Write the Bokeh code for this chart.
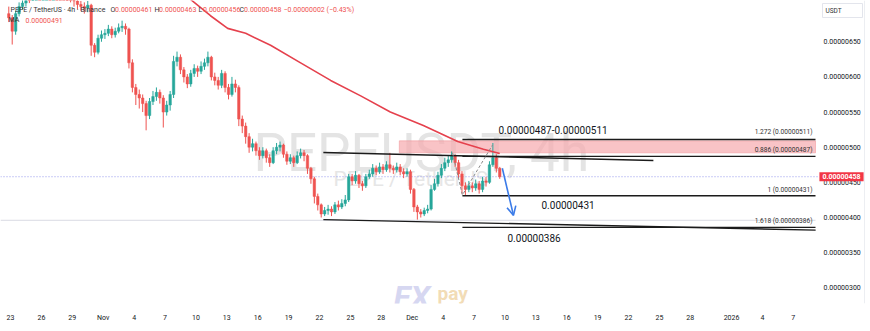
import numpy as np
import pandas as pd
from bokeh.plotting import figure
from bokeh.models import (Range1d, FixedTicker, NumeralTickFormatter, Label,
                          Arrow, OpenHead, ColumnDataSource)
from bokeh.core.properties import value
from bokeh.embed import file_html
from bokeh.resources import INLINE

UNIT = 1e-8  # all prices below are in units of 0.00000001 USDT

# ---------------- data (PEPE/USDT, 8h candles) ----------------
FIRST_CANDLE = "2025-10-22 16:00"
FIRST_OPEN = 690
closes = [684,
          665, 690, 700, 705, 715, 712, 720, 730, 725, 735, 740, 728, 745, 738, 730,
          725, 715, 712, 708, 703, 700, 698, 702, 645, 635, 655, 660, 662, 668, 660,
          665, 670, 672, 668, 620, 585, 575, 570, 562, 545, 565, 572, 578, 570, 550,
          560, 575, 622, 628, 610, 600, 590, 605, 612, 608, 615, 620, 628, 600, 595,
          588, 605, 585, 575, 590, 585, 540, 530, 515, 500, 505, 495, 488, 495, 485,
          478, 495, 500, 503, 490, 480, 485, 478, 488, 492, 488, 470, 455, 430, 418,
          405, 410, 412, 408, 418, 415, 420, 425, 458, 452, 460, 448, 445, 458, 462,
          470, 465, 472, 468, 475, 470, 468, 472, 465, 462, 465, 440, 415, 408, 405,
          410, 412, 440, 448, 460, 470, 478, 482, 488, 478, 462, 445, 440, 445, 442,
          448, 440, 452, 450, 475, 485, 470, 458]
highs = [700,
         688, 694, 706, 712, 722, 720, 726, 736, 734, 742, 748, 744, 752, 750, 742,
         734, 728, 720, 716, 712, 708, 706, 708, 704, 648, 660, 666, 668, 674, 672,
         670, 676, 680, 676, 670, 625, 590, 582, 575, 566, 570, 580, 585, 582, 574,
         566, 580, 630, 636, 632, 614, 604, 610, 618, 616, 622, 626, 636, 630, 606,
         600, 610, 608, 590, 600, 596, 588, 545, 535, 520, 512, 508, 500, 500, 498,
         490, 500, 506, 508, 505, 494, 490, 488, 494, 498, 496, 490, 472, 458, 434,
         420, 415, 418, 416, 422, 424, 426, 432, 462, 462, 466, 462, 452, 462, 468,
         476, 474, 478, 476, 480, 492, 474, 478, 476, 470, 470, 468, 442, 418, 412,
         414, 418, 446, 455, 465, 476, 485, 488, 494, 490, 482, 466, 450, 452, 450,
         454, 452, 458, 458, 480, 506, 490, 472]
lows = [678,
        646, 660, 686, 696, 700, 705, 708, 716, 718, 720, 730, 722, 724, 732, 724,
        718, 708, 706, 700, 696, 694, 690, 692, 630, 628, 632, 650, 654, 658, 655,
        656, 662, 664, 660, 612, 578, 560, 555, 550, 524, 540, 560, 566, 562, 528,
        545, 552, 570, 615, 604, 592, 584, 586, 600, 600, 604, 610, 615, 595, 588,
        582, 584, 578, 568, 572, 578, 530, 520, 505, 492, 494, 488, 482, 484, 478,
        472, 476, 490, 494, 485, 475, 476, 472, 476, 484, 480, 462, 448, 420, 410,
        400, 402, 404, 402, 405, 410, 412, 416, 422, 446, 448, 442, 438, 442, 455,
        458, 460, 462, 462, 465, 464, 462, 464, 460, 456, 458, 434, 408, 397, 400,
        402, 406, 410, 438, 444, 456, 466, 472, 478, 472, 456, 434, 432, 436, 436,
        438, 434, 436, 444, 448, 472, 464, 455]

ma_times = ["2025-11-08 12:00", "2025-11-11 10:00", "2025-11-13 02:00", "2025-11-14 20:00",
            "2025-11-17 06:00", "2025-11-20 04:00", "2025-11-23 02:00", "2025-11-26 00:00",
            "2025-11-28 21:00", "2025-12-02 02:00", "2025-12-05 10:00", "2025-12-07 22:00",
            "2025-12-09 12:00"]
ma_values = [722, 687, 669, 662, 645, 620, 595, 573, 550, 531, 508, 497, 491]

fib_ratios = ["1.272", "0.886", "1", "1.618"]
fib_levels = [511, 487, 431, 386]
fib_start = "2025-12-05 21:00"
zone_start = "2025-11-29 18:00"
zone_low, zone_high = 492, 509
last_price = 458
trend_upper_t = ["2025-11-22 09:00", "2025-12-24 10:00"]
trend_upper_v = [492.5, 481]
trend_lower_t = ["2025-11-22 09:00", "2026-01-09 04:00"]
trend_lower_v = [397, 382]
faint_level = 396
swing_t = ["2025-12-04 22:00", "2025-12-05 21:00", "2025-12-08 19:00"]
swing_v = [492, 432, 503]
arrow_t = ["2025-12-09 18:00", "2025-12-10 20:00"]
arrow_v = [470, 403]

y_ticks = [300, 350, 400, 450, 500, 550, 600, 650]
x_tick_dates = ["2025-10-23", "2025-10-26", "2025-10-29", "2025-11-01", "2025-11-04",
                "2025-11-07", "2025-11-10", "2025-11-13", "2025-11-16", "2025-11-19",
                "2025-11-22", "2025-11-25", "2025-11-28", "2025-12-01", "2025-12-04",
                "2025-12-07", "2025-12-10", "2025-12-13", "2025-12-16", "2025-12-19",
                "2025-12-22", "2025-12-25", "2025-12-28", "2026-01-01", "2026-01-04",
                "2026-01-07"]
x_tick_labels = ["23", "26", "29", "Nov", "4", "7", "10", "13", "16", "19", "22", "25", "28",
                 "Dec", "4", "7", "10", "13", "16", "19", "22", "25", "28", "2026", "4", "7"]

header_info = "PEPE / TetherUS · 4h · Binance"
header_ohlc = [("O", "0.00000461"), ("H", "0.00000463"), ("L", "0.00000456"), ("C", "0.00000458")]
header_change = "−0.00000002 (−0.43%)"
ma_label = "0.00000491"


# ---------------- helpers ----------------
def ms(s):
    return pd.Timestamp(s).value / 1e6


T0 = ms("2025-10-23")
DAY = 86400000.0
PX_PER_DAY = 10.3


def X(px):  # layout helper: screen x -> time
    return T0 + (px - 10) / PX_PER_DAY * DAY


def V(py):  # layout helper: screen y -> price
    return (500 - (py - 146.7) / 0.703) * UNIT


FONT = value("Roboto")
GREEN, RED = "#26a69a", "#ef5350"

n = len(closes)
opens = [FIRST_OPEN] + closes[:-1]
t_open = pd.date_range(FIRST_CANDLE, periods=n, freq="8h")
t_mid = (t_open + pd.Timedelta(hours=4)).values.astype("datetime64[ms]").astype("int64").astype(float)
o = np.array(opens, float) * UNIT
c = np.array(closes, float) * UNIT
h = np.array(highs, float) * UNIT
l = np.array(lows, float) * UNIT
colors = [GREEN if cc >= oo else RED for oo, cc in zip(opens, closes)]
src = ColumnDataSource(dict(x=t_mid, top=np.maximum(o, c), bottom=np.minimum(o, c),
                            high=h, low=l, color=colors))

p = figure(width=870, height=331, x_axis_type="datetime", y_axis_location="right",
           output_backend="svg", toolbar_location=None,
           x_range=Range1d(X(0), X(870)), y_range=Range1d(V(303), V(0)),
           min_border_left=0, min_border_top=0, min_border_right=0, min_border_bottom=28)
p.outline_line_color = None
p.grid.visible = False
p.background_fill_color = "white"
p.border_fill_color = "white"

# watermarks
p.text(x=[X(253)], y=[V(152)], text=["PEPEUSDT, 4h"], text_font=FONT, text_font_size="53px",
       text_color="#e4e4e4", text_baseline="alphabetic", text_align="left")
p.text(x=[X(333)], y=[V(178)], text=["PEPE / TetherUS"], text_font=FONT, text_font_size="21px",
       text_color="#e6e6e6", text_baseline="middle", text_align="left")
p.text(x=[X(393)], y=[V(296)], text=["FX"], text_font=FONT, text_font_size="32px",
       text_font_style="bold italic", text_color="#d6d7f1", text_baseline="alphabetic")
p.text(x=[X(437)], y=[V(293)], text=["pay"], text_font=FONT, text_font_size="19px",
       text_font_style="bold", text_color="#f2dcb6", text_baseline="alphabetic")

x_right = X(815)  # right edge of the price pane
# pane edge on the far right
p.line(x=[X(864), X(864)], y=[V(0), V(303)], line_color="#eceef2", line_width=1)
# pink zone
p.quad(left=[ms(zone_start)], right=[x_right], bottom=[zone_low * UNIT], top=[zone_high * UNIT],
       fill_color="#f6a9ae", fill_alpha=0.7, line_color="#f19aa0", line_width=0.6)
# faint horizontal line
p.line(x=[X(0), x_right], y=[faint_level * UNIT] * 2, line_color="#cfd2dc", line_width=0.8)
# last price dotted line
p.line(x=[X(0), X(819)], y=[last_price * UNIT] * 2, line_color="#9598ee", line_width=1,
       line_dash="1 2")

# candles
p.segment(x0="x", y0="low", x1="x", y1="high", color="color", line_width=1, source=src)
p.vbar(x="x", width=8 * 3600000 * 0.72, top="top", bottom="bottom", fill_color="color",
       line_color="color", line_width=0.5, source=src)

# moving average
p.line(x=[ms(t) for t in ma_times], y=[v * UNIT for v in ma_values], line_color="#e5414d",
       line_width=1.6)

# trend lines
p.line(x=[ms(t) for t in trend_upper_t], y=[v * UNIT for v in trend_upper_v],
       line_color="#1b1b1b", line_width=1.4)
p.line(x=[ms(t) for t in trend_lower_t], y=[v * UNIT for v in trend_lower_v],
       line_color="#1b1b1b", line_width=1.4)
# fib lines
for lv in fib_levels:
    p.line(x=[ms(fib_start), x_right], y=[lv * UNIT] * 2, line_color="#1b1b1b", line_width=1.4)
# swing dashed
p.line(x=[ms(t) for t in swing_t], y=[v * UNIT for v in swing_v], line_color="#8a8a8a",
       line_width=1, line_dash="3 2")
# blue arrow
BLUE = "#3b7be8"
p.add_layout(Arrow(x_start=ms(arrow_t[0]), y_start=arrow_v[0] * UNIT,
                   x_end=ms(arrow_t[1]), y_end=arrow_v[1] * UNIT,
                   line_color=BLUE, line_width=1.6,
                   end=OpenHead(size=9, line_color=BLUE, line_width=1.6)))

# fib labels (right side)
fib_label_py = [131.7, 149, 189, 220]
for ratio, lv, py in zip(fib_ratios, fib_levels, fib_label_py):
    p.add_layout(Label(x=X(812), y=V(py), text=f"{ratio} (0.00000{lv})", text_font="Roboto",
                       text_font_size="6.6px", text_color="#333333", text_align="right",
                       text_baseline="middle"))

# big annotation labels
p.add_layout(Label(x=X(498), y=V(129), text=f"0.00000{fib_levels[1]}-0.00000{fib_levels[0]}",
                   text_font="Roboto", text_font_size="10px", text_color="#131722",
                   text_baseline="middle"))
p.add_layout(Label(x=X(541), y=V(204), text=f"0.00000{fib_levels[2]}", text_font="Roboto",
                   text_font_size="10px", text_color="#131722", text_baseline="middle"))
p.add_layout(Label(x=X(507), y=V(237), text=f"0.00000{fib_levels[3]}", text_font="Roboto",
                   text_font_size="10px", text_color="#131722", text_baseline="middle"))

# header
HDR = dict(text_font="Roboto", text_font_size="7px", text_baseline="middle")
p.add_layout(Label(x=X(10), y=V(9), text=header_info, text_color="#333333", **HDR))
hx = [110, 154, 198, 239]
for px, (k, val) in zip(hx, header_ohlc):
    p.add_layout(Label(x=X(px), y=V(9), text=k, text_color="#333333", **HDR))
    p.add_layout(Label(x=X(px + 4.6), y=V(9), text=val, text_color=RED, **HDR))
p.add_layout(Label(x=X(283), y=V(9), text=header_change, text_color=RED, **HDR))
p.add_layout(Label(x=X(8), y=V(19.5), text="MA", text_color="#333333", **HDR))
p.add_layout(Label(x=X(25), y=V(19.5), text=ma_label, text_color=RED, **HDR))

# axes (price scale pinned at the right edge of the price pane)
ya = p.yaxis[0]
ya.fixed_location = x_right
ya.ticker = FixedTicker(ticks=[t * UNIT for t in y_ticks])
ya.formatter = NumeralTickFormatter(format="0.00000000")
ya.major_label_text_font = "Roboto"
ya.major_label_text_font_size = "7px"
ya.major_label_text_color = "#131722"
ya.axis_line_color = None
ya.major_tick_line_color = None
ya.minor_tick_line_color = None
ya.major_tick_out = 0
ya.major_tick_in = 0
ya.minor_tick_out = 0
ya.major_label_standoff = 8

xa = p.xaxis[0]
xt = [int(ms(d)) for d in x_tick_dates]
xa.ticker = FixedTicker(ticks=xt)
xa.major_label_overrides = {t: lab for t, lab in zip(xt, x_tick_labels)}
xa.major_label_text_font = "Roboto"
xa.major_label_text_font_size = "7px"
xa.major_label_text_color = "#131722"
xa.axis_line_color = None
xa.major_tick_line_color = None
xa.minor_tick_line_color = None
xa.major_tick_out = 0
xa.major_tick_in = 0
xa.minor_tick_out = 0
xa.major_label_standoff = 10

# last price tag and currency box
p.add_layout(Label(x=X(841), y=last_price * UNIT, text=f"0.00000{last_price}", text_font="Roboto",
                   text_font_size="7px", text_font_style="bold", text_color="white",
                   text_align="center", text_baseline="middle", background_fill_color="#f23645",
                   padding=(3, 2)))
p.quad(left=[X(822)], right=[X(862)], bottom=[V(17)], top=[V(3)], fill_color="white",
       line_color="#e3e5ec", line_width=1)
p.add_layout(Label(x=X(825), y=V(10), text="USDT", text_font="Roboto", text_font_size="6.5px",
                   text_color="#333333", text_align="left", text_baseline="middle"))

open("out.html", "w").write(file_html(p, INLINE))
